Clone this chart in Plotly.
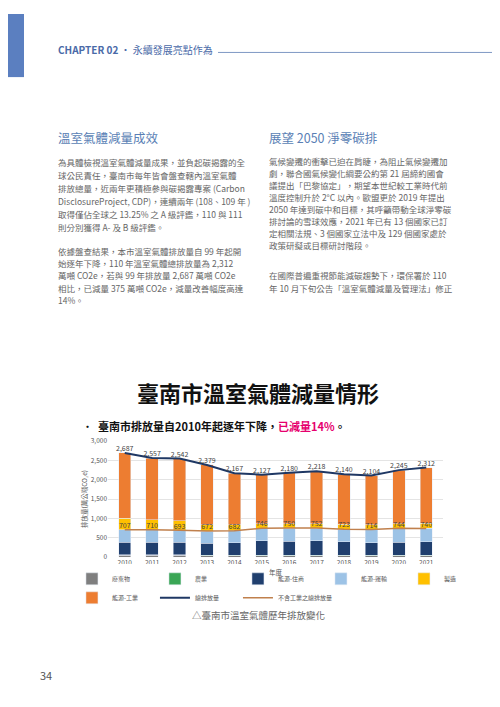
import plotly.graph_objects as go

years = [2010, 2011, 2012, 2013, 2014, 2015, 2016, 2017, 2018, 2019, 2020, 2021]
total = [2687, 2557, 2542, 2379, 2167, 2127, 2180, 2218, 2140, 2104, 2245, 2312]
non_industry = [707, 710, 693, 672, 682, 746, 750, 752, 723, 714, 744, 740]
waste = [50, 50, 50, 35, 35, 35, 35, 35, 35, 35, 35, 35]
agri = [15, 15, 15, 15, 15, 15, 15, 15, 15, 15, 15, 15]
residential = [325, 325, 315, 310, 320, 370, 365, 370, 345, 325, 340, 345]
transport = [317, 320, 313, 312, 312, 326, 335, 332, 328, 339, 354, 345]
manufacturing = [293, 250, 252, 168, 148, 114, 110, 108, 127, 126, 116, 130]
industry = [t - n - m for t, n, m in zip(total, non_industry, manufacturing)]

fig = go.Figure()
stack = [("廢棄物", waste, "#7f7f7f"), ("農業", agri, "#3aa655"),
         ("能源-住商", residential, "#203f6e"), ("能源-運輸", transport, "#9dc3e6"),
         ("製造", manufacturing, "#ffc000"), ("能源-工業", industry, "#ed7d31")]
for name, vals, col in stack:
    fig.add_trace(go.Bar(x=years, y=vals, name=name, marker_color=col, width=0.45))
fig.add_trace(go.Scatter(x=years, y=total, name="總排放量", mode="lines+text",
                         line=dict(color="#1f3864", width=2), text=[f"{v:,}" for v in total],
                         textposition="top center", textfont=dict(size=7, color="#444")))
fig.add_trace(go.Scatter(x=years, y=non_industry, name="不含工業之總排放量", mode="lines+text",
                         line=dict(color="#c0804d", width=1.5), text=[str(v) for v in non_industry],
                         textposition="top center", textfont=dict(size=7, color="#444")))

fig.update_layout(
    barmode="stack", width=500, height=707, margin=dict(l=0, r=0, t=0, b=0),
    paper_bgcolor="white", plot_bgcolor="white",
    font=dict(family="Noto Sans CJK TC", color="#555"),
    xaxis=dict(domain=[0.2, 0.87], tickvals=years, tickfont=dict(size=6.5), showline=False,
               title=dict(text="年度", font=dict(size=6.5), standoff=2)),
    yaxis=dict(domain=[0.2207, 0.3876], range=[0, 3000], dtick=500, tickformat=",",
               tickfont=dict(size=6.5), gridcolor="#e4e4e4", zeroline=False,
               title=dict(text="排放量(萬公噸CO₂e)", font=dict(size=6.5), standoff=2)),
    legend=dict(orientation="h", x=0.13, y=0.176, xanchor="left", yanchor="middle",
                font=dict(size=6), itemwidth=30, entrywidth=38, entrywidthmode="pixels",
                traceorder="normal", tracegroupgap=0),
    showlegend=True,
)

def txt(x, y, s, size=8.5, color="#666", anchor="left"):
    fig.add_annotation(x=x / 500, y=1 - y / 707, xref="paper", yref="paper", text=s,
                       showarrow=False, xanchor=anchor, yanchor="middle",
                       font=dict(size=size, color=color, family="Noto Sans CJK TC"))

# header
fig.add_shape(type="rect", xref="paper", yref="paper", x0=0, x1=16 / 500, y0=1 - 64 / 707, y1=1,
              fillcolor="#5b7fc0", line_width=0)
fig.add_shape(type="line", xref="paper", yref="paper", x0=210 / 500, x1=1, y0=1 - 39 / 707, y1=1 - 39 / 707,
              line=dict(color="#7f98c4", width=1))
txt(48, 36, "<b>CHAPTER 02</b> · 永續發展亮點作為", size=10, color="#4a6aa8")

blue = "#5a7fb5"
txt(48, 125, "溫室氣體減量成效", size=12.5, color=blue)
txt(259, 125, "展望 2050 淨零碳排", size=12.5, color=blue)

left = ["為具體檢視溫室氣體減量成果，並負起碳揭露的全", "球公民責任，臺南市每年皆會盤查轄內溫室氣體",
        "排放總量，近兩年更積極參與碳揭露專案 (Carbon", "DisclosureProject, CDP)，連續兩年 (108、109 年 )",
        "取得僅佔全球之 13.25% 之 A 級評鑑，110 與 111", "則分別獲得 A- 及 B 級評鑑。"]
for i, s in enumerate(left):
    txt(48, 150 + i * 13.3, s)
left2 = ["依據盤查結果，本市溫室氣體排放量自 99 年起開", "始逐年下降，110 年溫室氣體總排放量為 2,312",
         "萬噸 CO2e，若與 99 年排放量 2,687 萬噸 CO2e", "相比，已減量 375 萬噸 CO2e，減量改善幅度高達", "14%。"]
for i, s in enumerate(left2):
    txt(48, 240 + i * 12.6, s)
right = ["氣候變遷的衝擊已迫在肩睫，為阻止氣候變遷加", "劇，聯合國氣候變化綱要公約第 21 屆締約國會",
         "議提出「巴黎協定」，期望本世紀較工業時代前", "溫度控制升於 2°C 以內。歐盟更於 2019 年提出",
         "2050 年達到碳中和目標，其呼籲帶動全球淨零碳", "排討論的雪球效應，2021 年已有 13 個國家已訂",
         "定相關法規、3 個國家立法中及 129 個國家處於", "政策研擬或目標研討階段。"]
for i, s in enumerate(right):
    txt(259, 149 + i * 12.2, s)
right2 = ["在國際普遍重視節能減碳趨勢下，環保署於 110", "年 10 月下旬公告「溫室氣體減量及管理法」修正"]
for i, s in enumerate(right2):
    txt(259, 265 + i * 13, s)

txt(250, 383, "<b>臺南市溫室氣體減量情形</b>", size=22, color="#111", anchor="center")
txt(72, 418, "•  <b>臺南市排放量自2010年起逐年下降，<span style='color:#e6006e'>已減量14%</span>。</b>",
    size=11, color="#111")
txt(250, 610, "△臺南市溫室氣體歷年排放變化", size=9.5, color="#666", anchor="center")
txt(30, 670, "34", size=11, color="#555")

fig.write_html("out.html")
